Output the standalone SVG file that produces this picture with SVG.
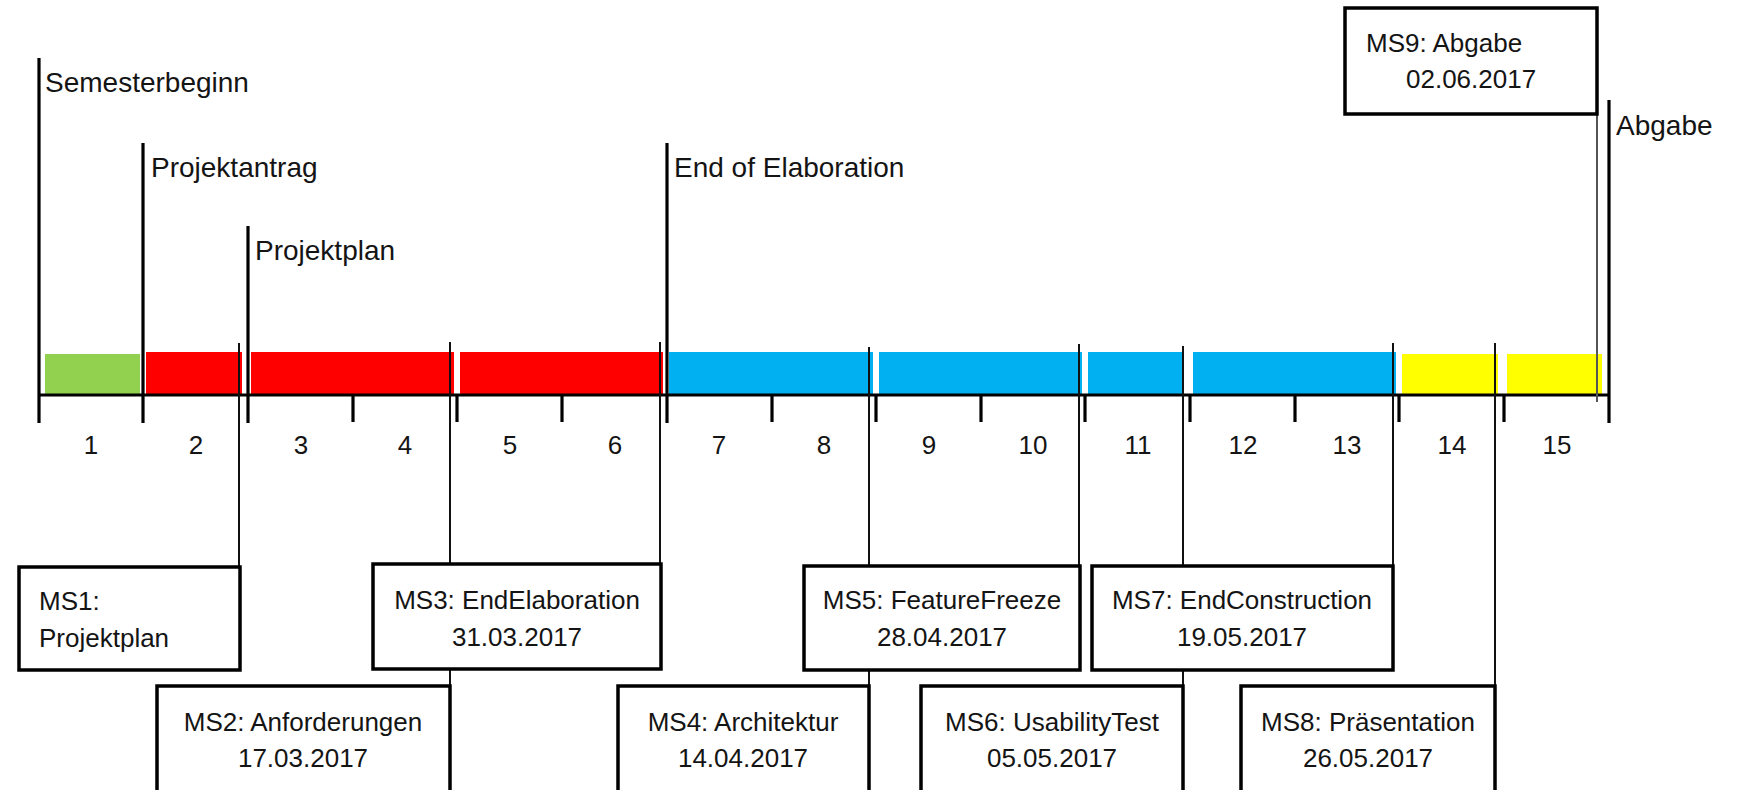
<svg xmlns="http://www.w3.org/2000/svg" width="1740" height="790" viewBox="0 0 1740 790">
<style>
text{font-family:"Liberation Sans",Arial,sans-serif;fill:#141414}
.lbl{font-size:28px}
.num{font-size:26px;text-anchor:middle}
.bt{font-size:26px}
.c{text-anchor:middle}
.box{fill:#fff;stroke:#000;stroke-width:3.5}
.tall{stroke:#000;stroke-width:3.2}
.tick{stroke:#000;stroke-width:3.2}
.con{stroke:#111;stroke-width:2}
</style>
<rect width="1740" height="790" fill="#fff"/>
<g id="bars">
<rect x="45" y="354" width="95" height="41" fill="#92D050"/>
<rect x="146" y="352" width="96" height="43" fill="#FF0000"/>
<rect x="251" y="352" width="203" height="43" fill="#FF0000"/>
<rect x="460" y="352" width="203" height="43" fill="#FF0000"/>
<rect x="669" y="352" width="204" height="43" fill="#00B0F0"/>
<rect x="879" y="352" width="203" height="43" fill="#00B0F0"/>
<rect x="1088" y="352" width="95" height="43" fill="#00B0F0"/>
<rect x="1193" y="352" width="203" height="43" fill="#00B0F0"/>
<rect x="1402" y="354" width="96" height="41" fill="#FFFF00"/>
<rect x="1507" y="354" width="95" height="41" fill="#FFFF00"/>
</g>
<g id="axis">
<line x1="39" y1="395" x2="1609" y2="395" stroke="#000" stroke-width="3"/>
<line class="tick" x1="353" y1="395" x2="353" y2="422"/>
<line class="tick" x1="457" y1="395" x2="457" y2="422"/>
<line class="tick" x1="562" y1="395" x2="562" y2="422"/>
<line class="tick" x1="772" y1="395" x2="772" y2="422"/>
<line class="tick" x1="876" y1="395" x2="876" y2="422"/>
<line class="tick" x1="981" y1="395" x2="981" y2="422"/>
<line class="tick" x1="1085" y1="395" x2="1085" y2="422"/>
<line class="tick" x1="1190" y1="395" x2="1190" y2="422"/>
<line class="tick" x1="1295" y1="395" x2="1295" y2="422"/>
<line class="tick" x1="1399" y1="395" x2="1399" y2="422"/>
<line class="tick" x1="1504" y1="395" x2="1504" y2="422"/>
<text class="num" x="91" y="454">1</text>
<text class="num" x="196" y="454">2</text>
<text class="num" x="301" y="454">3</text>
<text class="num" x="405" y="454">4</text>
<text class="num" x="510" y="454">5</text>
<text class="num" x="615" y="454">6</text>
<text class="num" x="719" y="454">7</text>
<text class="num" x="824" y="454">8</text>
<text class="num" x="929" y="454">9</text>
<text class="num" x="1033" y="454">10</text>
<text class="num" x="1138" y="454">11</text>
<text class="num" x="1243" y="454">12</text>
<text class="num" x="1347" y="454">13</text>
<text class="num" x="1452" y="454">14</text>
<text class="num" x="1557" y="454">15</text>
</g>
<g id="phase-markers">
<line class="tall" x1="39" y1="58" x2="39" y2="423"/>
<text class="lbl" x="45" y="92">Semesterbeginn</text>
<line class="tall" x1="143" y1="143" x2="143" y2="423"/>
<text class="lbl" x="151" y="177">Projektantrag</text>
<line class="tall" x1="248" y1="226" x2="248" y2="423"/>
<text class="lbl" x="255" y="260">Projektplan</text>
<line class="tall" x1="667" y1="143" x2="667" y2="423"/>
<text class="lbl" x="674" y="177">End of Elaboration</text>
<line class="tall" x1="1609" y1="100" x2="1609" y2="423"/>
<text class="lbl" x="1616" y="135">Abgabe</text>
</g>
<g id="connectors">
<line class="con" x1="239" y1="343" x2="239" y2="567"/>
<line class="con" x1="450" y1="342" x2="450" y2="686"/>
<line class="con" x1="660" y1="342" x2="660" y2="564"/>
<line class="con" x1="869" y1="347" x2="869" y2="686"/>
<line class="con" x1="1079" y1="344" x2="1079" y2="566"/>
<line class="con" x1="1183" y1="346" x2="1183" y2="686"/>
<line class="con" x1="1393" y1="343" x2="1393" y2="566"/>
<line class="con" x1="1495" y1="343" x2="1495" y2="686"/>
<line x1="1597" y1="114" x2="1597" y2="402" stroke="#555" stroke-width="2"/>
</g>
<g id="ms1">
<rect class="box" x="19" y="567" width="221" height="103"/>
<text class="bt" x="39" y="610">MS1:</text>
<text class="bt" x="39" y="647">Projektplan</text>
</g>
<g id="ms3">
<rect class="box" x="373" y="564" width="288" height="105"/>
<text class="bt c" x="517" y="609">MS3: EndElaboration</text>
<text class="bt c" x="517" y="646">31.03.2017</text>
</g>
<g id="ms5">
<rect class="box" x="804" y="566" width="276" height="104"/>
<text class="bt c" x="942" y="609">MS5: FeatureFreeze</text>
<text class="bt c" x="942" y="646">28.04.2017</text>
</g>
<g id="ms7">
<rect class="box" x="1092" y="566" width="301" height="104"/>
<text class="bt c" x="1242" y="609">MS7: EndConstruction</text>
<text class="bt c" x="1242" y="646">19.05.2017</text>
</g>
<g id="ms2">
<rect class="box" x="157" y="686" width="293" height="120"/>
<text class="bt c" x="303" y="731">MS2: Anforderungen</text>
<text class="bt c" x="303" y="767">17.03.2017</text>
</g>
<g id="ms4">
<rect class="box" x="618" y="686" width="251" height="120"/>
<text class="bt c" x="743" y="731">MS4: Architektur</text>
<text class="bt c" x="743" y="767">14.04.2017</text>
</g>
<g id="ms6">
<rect class="box" x="921" y="686" width="262" height="120"/>
<text class="bt c" x="1052" y="731">MS6: UsabilityTest</text>
<text class="bt c" x="1052" y="767">05.05.2017</text>
</g>
<g id="ms8">
<rect class="box" x="1241" y="686" width="254" height="120"/>
<text class="bt c" x="1368" y="731">MS8: Präsentation</text>
<text class="bt c" x="1368" y="767">26.05.2017</text>
</g>
<g id="ms9">
<rect class="box" x="1345" y="8" width="252" height="106"/>
<text class="bt" x="1366" y="52">MS9: Abgabe</text>
<text class="bt" x="1406" y="88">02.06.2017</text>
</g>
</svg>
